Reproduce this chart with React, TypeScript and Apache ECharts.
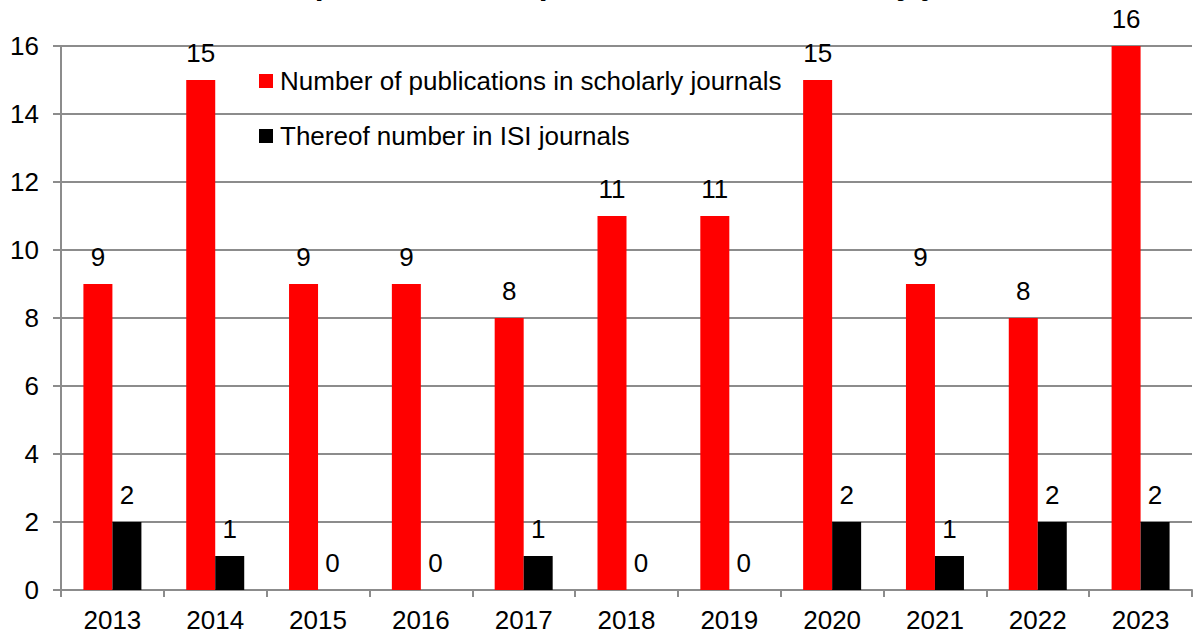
import React, { useEffect, useRef } from "react";
import * as echarts from "echarts";

const titleText = "Number of peer-reviewed publications in scholarly journals";
const years = ["2013", "2014", "2015", "2016", "2017", "2018", "2019", "2020", "2021", "2022", "2023"];
const scholarly = [9, 15, 9, 9, 8, 11, 11, 15, 9, 8, 16];
const isi = [2, 1, 0, 0, 1, 0, 0, 2, 1, 2, 2];
const seriesNames = ["Number of publications in scholarly journals", "Thereof number in ISI journals"];

const FONT = "'Liberation Sans', Arial, sans-serif";
const FS = 26;

export default function App() {
  const ref = useRef<HTMLDivElement>(null);
  useEffect(() => {
    if (!ref.current) return;
    const chart = echarts.init(ref.current, undefined, { renderer: "svg" });
    const gridColor = "#8c8c8c";
    chart.setOption({
      animation: false,
      backgroundColor: "#ffffff",
      textStyle: { fontFamily: FONT },
      title: {
        text: titleText,
        left: "center",
        top: -38,
        textStyle: { fontFamily: FONT, fontSize: 32, fontWeight: "bold", color: "#000" },
      },
      legend: {
        orient: "vertical",
        left: 254,
        top: 63,
        itemWidth: 14,
        itemHeight: 14,
        itemGap: 29,
        icon: "rect",
        textStyle: { fontFamily: FONT, fontSize: FS, color: "#000", padding: [0, 0, 0, 2] },
        data: seriesNames,
      },
      grid: { left: 61, right: 1, top: 46, bottom: 47, containLabel: false },
      xAxis: {
        type: "category",
        data: years,
        axisLine: { lineStyle: { color: gridColor, width: 2 } },
        axisTick: { show: true, length: 7, lineStyle: { color: gridColor, width: 2 } },
        axisLabel: { color: "#000", fontSize: FS, fontFamily: FONT, margin: 17 },
      },
      yAxis: {
        type: "value",
        min: 0,
        max: 16,
        interval: 2,
        axisLine: { show: true, lineStyle: { color: gridColor, width: 2 } },
        axisTick: { show: true, length: 8, lineStyle: { color: gridColor, width: 2 } },
        axisLabel: { color: "#000", fontSize: FS, fontFamily: FONT, margin: 22 },
        splitLine: { show: true, lineStyle: { color: gridColor, width: 2 } },
      },
      series: [
        {
          name: seriesNames[0],
          type: "bar",
          data: scholarly,
          barWidth: 29,
          barGap: "0%",
          itemStyle: { color: "#ff0000" },
          label: { show: true, position: "top", distance: 14, color: "#000", fontSize: FS, fontFamily: FONT },
        },
        {
          name: seriesNames[1],
          type: "bar",
          data: isi,
          barWidth: 29,
          barGap: "0%",
          itemStyle: { color: "#000000" },
          label: { show: true, position: "top", distance: 14, color: "#000", fontSize: FS, fontFamily: FONT },
        },
      ],
    });
    return () => chart.dispose();
  }, []);
  return (
    <div
      ref={ref}
      style={{ position: "fixed", left: 0, top: 0, width: 1193, height: 637, background: "#fff" }}
    />
  );
}
